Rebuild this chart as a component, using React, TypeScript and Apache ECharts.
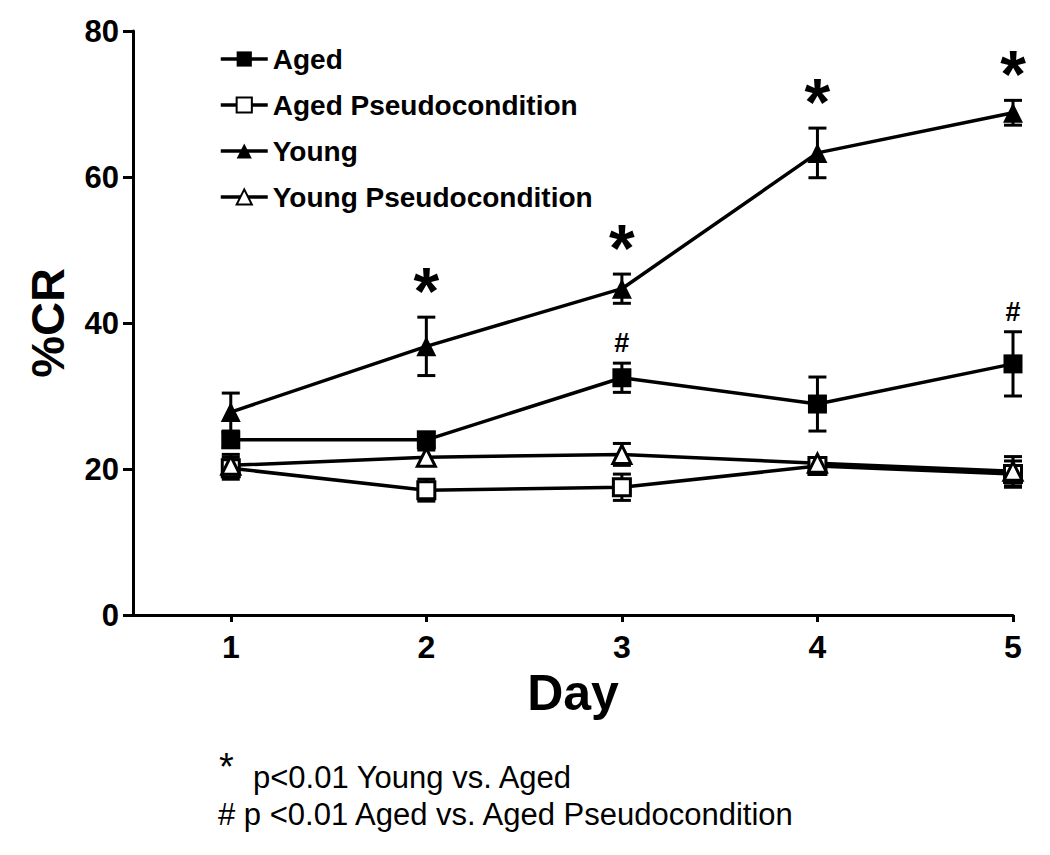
import React, { useEffect, useRef } from "react";
import * as echarts from "echarts";

const days = [1, 2, 3, 4, 5];
const yTicks = [0, 20, 40, 60, 80];

const agedMean = [24.0, 24.0, 32.5, 28.9, 34.4];
const agedErr = [1.0, 1.0, 2.0, 3.7, 4.4];
const agedPseudoMean = [20.1, 17.1, 17.5, 20.4, 19.3];
const agedPseudoErr = [1.5, 1.5, 1.8, 0.6, 1.8];
const youngMean = [27.8, 36.8, 44.7, 63.3, 68.8];
const youngErr = [2.6, 4.0, 2.0, 3.4, 1.7];
const youngPseudoMean = [20.5, 21.6, 22.0, 20.8, 19.7];
const youngPseudoErr = [1.5, 1.0, 1.5, 0.5, 2.0];

const starDays = [2, 3, 4, 5];
const hashDays = [3, 5];

const footnote1Star = "*";
const footnote1 = "p<0.01 Young vs. Aged";
const footnote2 = "# p <0.01 Aged vs. Aged Pseudocondition";

const FONT = "'Liberation Sans', Arial, sans-serif";

function errData(mean: number[], err: number[]) {
  return days.map((d, i) => [d, mean[i], mean[i] - err[i], mean[i] + err[i]]);
}

function errorSeries(mean: number[], err: number[]) {
  return {
    type: "custom",
    z: 1,
    silent: true,
    renderItem: (params: any, api: any) => {
      const x = api.value(0);
      const lo = api.coord([x, api.value(2)]);
      const hi = api.coord([x, api.value(3)]);
      const w = 9;
      const style = { stroke: "#000", lineWidth: 3 };
      return {
        type: "group",
        children: [
          { type: "line", shape: { x1: lo[0], y1: lo[1], x2: hi[0], y2: hi[1] }, style },
          { type: "line", shape: { x1: hi[0] - w, y1: hi[1], x2: hi[0] + w, y2: hi[1] }, style },
          { type: "line", shape: { x1: lo[0] - w, y1: lo[1], x2: lo[0] + w, y2: lo[1] }, style },
        ],
      };
    },
    data: errData(mean, err),
  };
}

function lineSeries(name: string, mean: number[], symbol: string, filled: boolean, size: number) {
  return {
    name,
    type: "line",
    z: 3,
    data: days.map((d, i) => [d, mean[i]]),
    symbol,
    symbolSize: size,
    showAllSymbol: true,
    lineStyle: { color: "#000", width: 3.5 },
    itemStyle: filled
      ? { color: "#000", borderColor: "#000", borderWidth: 0 }
      : { color: "#fff", borderColor: "#000", borderWidth: 3 },
    color: "#000",
  };
}

function annotationSeries(xs: number[], mean: number[], err: number[], text: string, size: number, dy: number) {
  return {
    type: "scatter",
    z: 5,
    silent: true,
    symbolSize: 0,
    itemStyle: { color: "#000", opacity: 1 },
    data: xs.map((d) => {
      const i = days.indexOf(d);
      return [d, mean[i] + err[i]];
    }),
    label: {
      show: true,
      formatter: text,
      position: "inside",
      offset: [0, dy],
      fontFamily: FONT,
      fontWeight: "bold",
      fontSize: size,
      color: "#000",
      opacity: 1,
      textBorderWidth: 0,
      textBorderColor: "transparent",
    },
  };
}

export default function App() {
  const ref = useRef<HTMLDivElement>(null);
  useEffect(() => {
    if (!ref.current) return;
    const chart = echarts.init(ref.current, null, { renderer: "svg" });
    const option: any = {
      animation: false,
      backgroundColor: "#fff",
      grid: { left: 133, right: 37, top: 31, bottom: 240 },
      legend: {
        orient: "vertical",
        left: 214,
        top: 40,
        itemWidth: 47,
        itemHeight: 19,
        itemGap: 18,
        lineStyle: { width: 3.5, color: "#000" },
        data: ["Aged", "Aged Pseudocondition", "Young", "Young Pseudocondition"],
        textStyle: { fontFamily: FONT, fontWeight: "bold", fontSize: 28, color: "#000" },
      },
      xAxis: {
        type: "value",
        min: 0.5,
        max: 5,
        name: "Day",
        nameLocation: "middle",
        nameGap: 52,
        nameTextStyle: { fontFamily: FONT, fontWeight: "bold", fontSize: 50, color: "#000" },
        axisLine: { onZero: false, lineStyle: { color: "#000", width: 3 } },
        axisTick: { customValues: days, length: 7, lineStyle: { color: "#000", width: 3 } },
        axisLabel: {
          customValues: days,
          margin: 16,
          fontFamily: FONT,
          fontWeight: "bold",
          fontSize: 32,
          color: "#000",
        },
        splitLine: { show: false },
      },
      yAxis: {
        type: "value",
        min: 0,
        max: 80,
        interval: 20,
        name: "%CR",
        nameLocation: "middle",
        nameGap: 62,
        nameTextStyle: { fontFamily: FONT, fontWeight: "bold", fontSize: 47, color: "#000" },
        axisLine: { show: true, onZero: false, lineStyle: { color: "#000", width: 3 } },
        axisTick: { show: true, length: 10, lineStyle: { color: "#000", width: 3 } },
        axisLabel: {
          customValues: yTicks,
          margin: 14,
          fontFamily: FONT,
          fontWeight: "bold",
          fontSize: 31,
          color: "#000",
        },
        splitLine: { show: false },
      },
      series: [
        errorSeries(agedMean, agedErr),
        errorSeries(agedPseudoMean, agedPseudoErr),
        errorSeries(youngMean, youngErr),
        errorSeries(youngPseudoMean, youngPseudoErr),
        lineSeries("Aged", agedMean, "rect", true, 19),
        lineSeries("Aged Pseudocondition", agedPseudoMean, "rect", false, 17),
        lineSeries("Young", youngMean, "triangle", true, 20),
        lineSeries("Young Pseudocondition", youngPseudoMean, "triangle", false, 18),
        annotationSeries(starDays, youngMean, youngErr, "*", 66, -26),
        annotationSeries(hashDays, agedMean, agedErr, "#", 27, -20),
      ],
      graphic: [
        {
          type: "text",
          left: 219,
          top: 748,
          style: { text: footnote1Star, fontFamily: FONT, fontSize: 38, fill: "#000" },
        },
        {
          type: "text",
          left: 253,
          top: 762,
          style: { text: footnote1, fontFamily: FONT, fontSize: 31, fill: "#000" },
        },
        {
          type: "text",
          left: 218,
          top: 799,
          style: { text: footnote2, fontFamily: FONT, fontSize: 31, fill: "#000" },
        },
      ],
    };
    chart.setOption(option);
    return () => chart.dispose();
  }, []);
  return (
    <div
      ref={ref}
      style={{ position: "absolute", left: 0, top: 0, width: 1050, height: 855, background: "#fff" }}
    />
  );
}
